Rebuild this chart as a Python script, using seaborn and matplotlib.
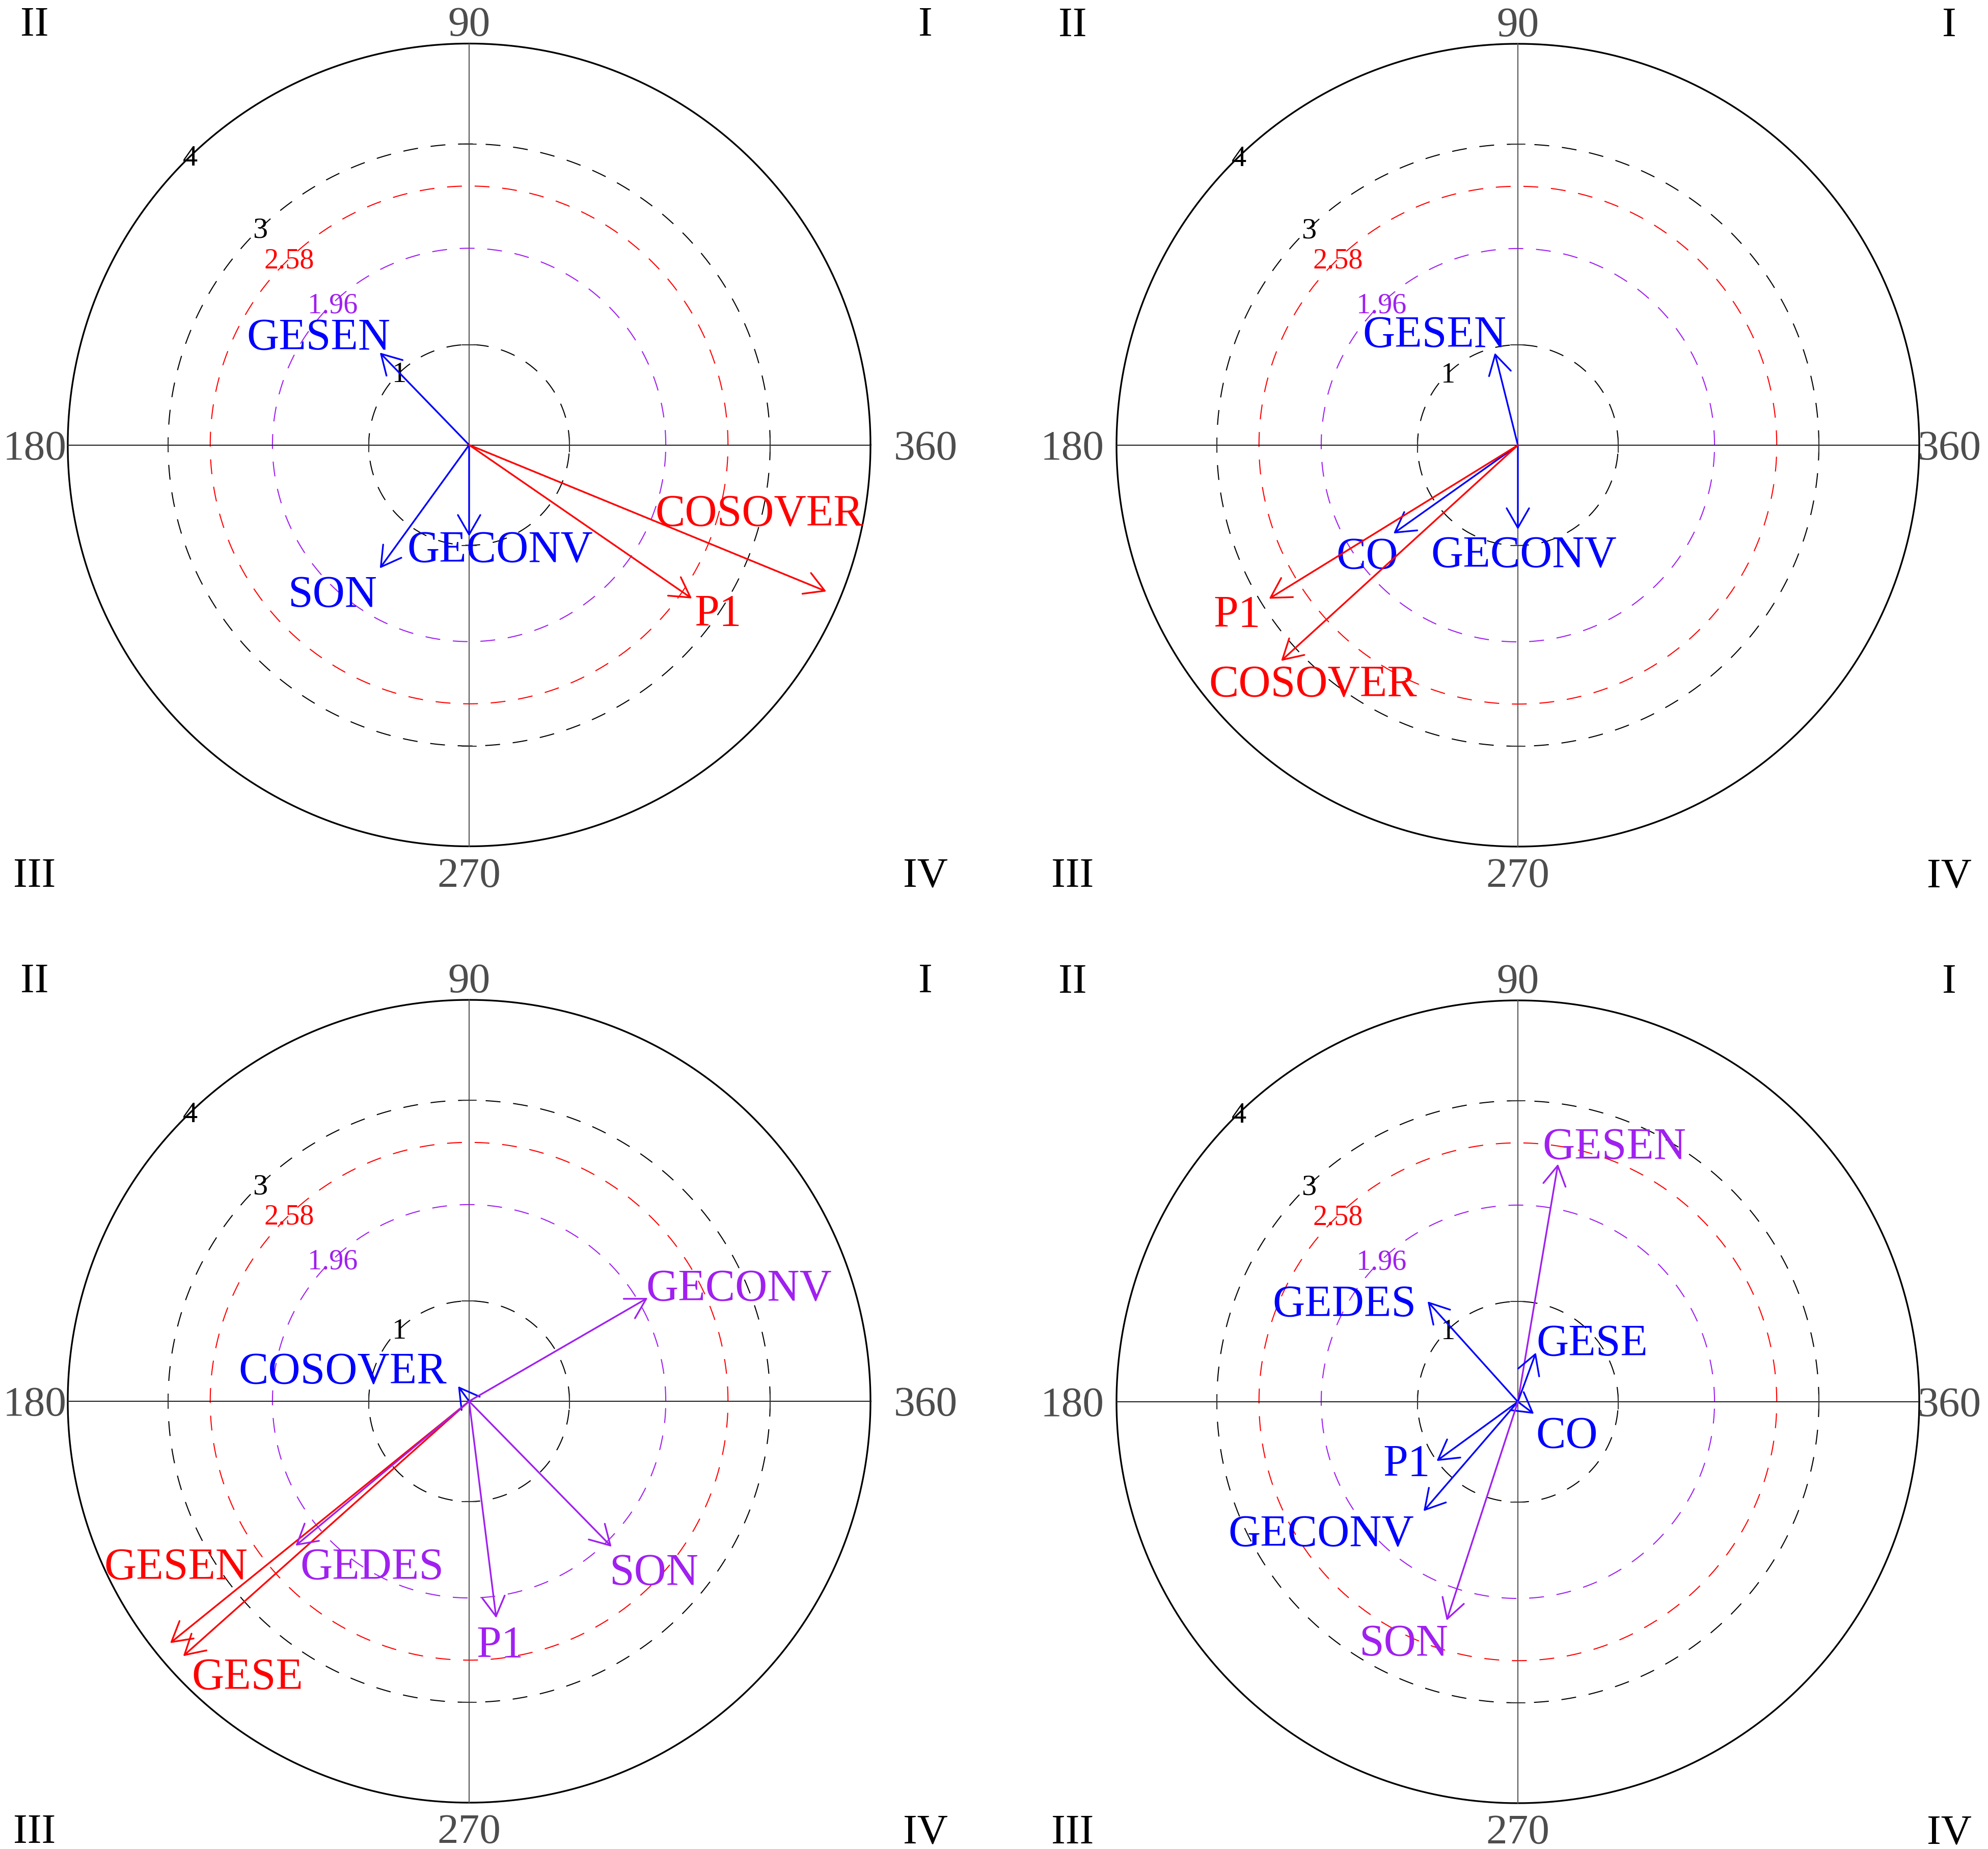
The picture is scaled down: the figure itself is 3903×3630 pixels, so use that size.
import numpy as np
import matplotlib
matplotlib.use('Agg')
import matplotlib.pyplot as plt
import seaborn as sns

# 各面板的向量数据 (x, y 为向量终点坐标)
p1_names = ['GESEN', 'GECONV', 'SON', 'P1', 'COSOVER']
p1_x = [-0.89, 0.0, -0.89, 2.22, 3.56]
p1_y = [0.92, -0.91, -1.23, -1.53, -1.46]
p1_sig = ['ns', 'ns', 'ns', 'p01', 'p01']

p2_names = ['GESEN', 'GECONV', 'CO', 'P1', 'COSOVER']
p2_x = [-0.23, 0.0, -1.24, -2.48, -2.36]
p2_y = [0.92, -0.84, -0.88, -1.53, -2.15]
p2_sig = ['ns', 'ns', 'ns', 'p01', 'p01']

p3_names = ['COSOVER', 'GECONV', 'GESEN', 'GESE', 'GEDES', 'P1', 'SON']
p3_x = [-0.11, 1.78, -2.98, -2.85, -1.73, 0.27, 1.42]
p3_y = [0.15, 1.03, -2.41, -2.54, -1.44, -2.16, -1.45]
p3_sig = ['ns', 'p05', 'p01', 'p01', 'p05', 'p05', 'p05']

p4_names = ['GESEN', 'GEDES', 'GESE', 'CO', 'P1', 'GECONV', 'SON']
p4_x = [0.40, -0.90, 0.18, 0.16, -0.81, -0.94, -0.71]
p4_y = [2.37, 1.00, 0.49, -0.12, -0.59, -1.09, -2.18]
p4_sig = ['p05', 'ns', 'ns', 'ns', 'ns', 'ns', 'p05']

# 圆环半径与标注
ring_r = [1, 1.96, 2.58, 3]
ring_lbl = ['1', '1.96', '2.58', '3']
outer_r = 4
angle_lbl = ['90', '180', '270', '360']
quad_lbl = ['I', 'II', 'III', 'IV']

# 标签相对箭头终点的偏移 (布局)
p1_off = [(-0.61, 0.18), (0.31, -0.11), (-0.47, -0.23), (0.26, -0.12), (-0.67, 0.80)]
p2_off = [(-0.60, 0.21), (0.06, -0.23), (-0.26, -0.20), (-0.32, -0.13), (0.32, -0.21)]
p3_off = [(-1.15, 0.17), (0.91, 0.12), (0.06, 0.79), (0.64, -0.18), (0.76, -0.18), (0.04, -0.24), (0.42, -0.23)]
p4_off = [(0.56, 0.20), (-0.83, 0.0), (0.56, 0.12), (0.33, -0.19), (-0.30, 0.0), (-1.02, -0.20), (-0.43, -0.20)]

sig_color = {'ns': '#0000FF', 'p05': '#A020F0', 'p01': '#FF0000'}
ring_color = ['black', '#A020F0', '#FF0000', 'black']

sns.set_theme(style='white')
plt.rcParams['font.family'] = ['Liberation Serif', 'DejaVu Serif']

W, H, DPI = 3903, 3630, 300
u = 197.0  # 每单位像素
fig = plt.figure(figsize=(W / DPI, H / DPI), dpi=DPI)

centers = [(921, 873.5), (2980, 874), (921, 2751), (2980, 2752)]
# 左右两列的外侧标注横向位置
side_x = [(-4.33, 4.55), (-4.44, 4.30), (-4.33, 4.55), (-4.44, 4.30)]
panels = [(p1_names, p1_x, p1_y, p1_sig, p1_off),
          (p2_names, p2_x, p2_y, p2_sig, p2_off),
          (p3_names, p3_x, p3_y, p3_sig, p3_off),
          (p4_names, p4_x, p4_y, p4_sig, p4_off)]

hw, hh = 900, 860
t = np.linspace(0, 2 * np.pi, 721)

for (cx, cy), (xl, xr), (names, xs, ys, sig, off) in zip(centers, side_x, panels):
    ax = fig.add_axes([(cx - hw) / W, 1 - (cy + hh) / H, 2 * hw / W, 2 * hh / H])
    ax.set_xlim(-hw / u, hw / u)
    ax.set_ylim(-hh / u, hh / u)
    ax.axis('off')

    # 虚线圆环
    for r, c in zip(ring_r, ring_color):
        sns.lineplot(x=r * np.cos(t), y=r * np.sin(t), sort=False, estimator=None,
                     color=c, lw=0.5, linestyle=(0, (14, 12)), ax=ax)
    sns.lineplot(x=outer_r * np.cos(t), y=outer_r * np.sin(t), sort=False, estimator=None,
                 color='black', lw=0.8, ax=ax)

    # 坐标轴
    ax.plot([-outer_r, outer_r], [0, 0], color='#222222', lw=0.5)
    ax.plot([0, 0], [-outer_r, outer_r], color='#555555', lw=0.5)
    for r in [1, 3]:
        for s in [-1, 1]:
            ax.plot([-0.07, 0.07], [s * r, s * r], color='#333333', lw=0.5)
            ax.plot([s * r, s * r], [-0.07, 0.07], color='#333333', lw=0.5)

    # 圆环标注
    a = np.deg2rad(134)
    for r, lbl, c in zip(ring_r + [outer_r], ring_lbl + ['4'], ring_color + ['black']):
        ax.text(r * np.cos(a), r * np.sin(a) - 0.094, lbl, color=c,
                fontsize=14 if lbl in ('4', '3') else 13.5, ha='center', va='baseline')

    # 角度与象限标注
    gy_top, gy_bot, dy0 = 4.22, -4.26, 0.142
    ax.text(0, gy_top - dy0, angle_lbl[0], color='#4d4d4d', fontsize=20, ha='center', va='baseline')
    ax.text(xl, -dy0, angle_lbl[1], color='#4d4d4d', fontsize=20, ha='center', va='baseline')
    ax.text(0, gy_bot - dy0, angle_lbl[2], color='#4d4d4d', fontsize=20, ha='center', va='baseline')
    ax.text(xr, -dy0, angle_lbl[3], color='#4d4d4d', fontsize=20, ha='center', va='baseline')
    ax.text(xr, gy_top - dy0, quad_lbl[0], color='black', fontsize=20, ha='center', va='baseline')
    ax.text(xl, gy_top - dy0, quad_lbl[1], color='black', fontsize=20, ha='center', va='baseline')
    ax.text(xl, gy_bot - dy0, quad_lbl[2], color='black', fontsize=20, ha='center', va='baseline')
    ax.text(xr, gy_bot - dy0, quad_lbl[3], color='black', fontsize=20, ha='center', va='baseline')

    # 向量箭头与标签
    for n, x, y, s, (dx, dy) in zip(names, xs, ys, sig, off):
        c = sig_color[s]
        ax.annotate('', xy=(x, y), xytext=(0, 0),
                    arrowprops=dict(arrowstyle='->,head_length=0.4,head_width=0.23',
                                    mutation_scale=23, color=c, lw=0.8,
                                    shrinkA=0, shrinkB=0))
        ax.text(x + dx, y + dy - 0.147, n, color=c, fontsize=21, ha='center', va='baseline')

fig.savefig('out.png', dpi=DPI, facecolor='white')
